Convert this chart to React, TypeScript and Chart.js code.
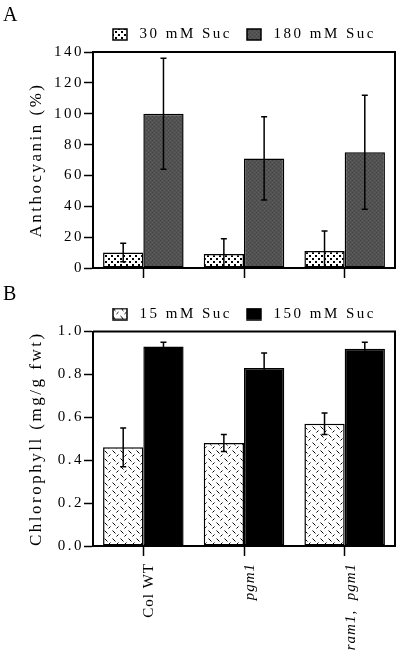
import React, { useEffect, useRef } from 'react';
import { Chart, registerables } from 'chart.js';
Chart.register(...registerables);

const FONT = "'Liberation Serif', 'Times New Roman', serif";

const categories = ['Col WT', 'pgm1', 'ram1,  pgm1'];

const anthoSeriesNames = ['30 mM Suc', '180 mM Suc'];
const antho30 = [10, 9, 11];
const antho30Err = [6, 10, 13];
const antho180 = [100, 71, 75];
const antho180Err = [36, 27, 37];
const anthoTicks = [0, 20, 40, 60, 80, 100, 120, 140];
const anthoTitle = 'Anthocyanin (%)';

const chloroSeriesNames = ['15 mM Suc', '150 mM Suc'];
const chloro15 = [0.46, 0.48, 0.57];
const chloro15Err = [0.09, 0.04, 0.05];
const chloro150 = [0.93, 0.83, 0.92];
const chloro150Err = [0.02, 0.07, 0.03];
const chloroTicks = [0, 0.2, 0.4, 0.6, 0.8, 1.0];
const chloroTitle = 'Chlorophyll (mg/g fwt)';

function makePattern(kind: string): any {
  const c = document.createElement('canvas');
  const g = c.getContext('2d')!;
  if (kind === 'dots') {
    c.width = 6; c.height = 6;
    g.fillStyle = '#fff'; g.fillRect(0, 0, 6, 6);
    g.fillStyle = '#000';
    g.fillRect(0, 0, 2, 2);
    g.fillRect(3, 3, 2, 2);
  } else if (kind === 'gray') {
    c.width = 4; c.height = 4;
    g.fillStyle = '#525252'; g.fillRect(0, 0, 4, 4);
    g.fillStyle = '#444444';
    g.fillRect(0, 0, 1, 1);
    g.fillRect(2, 2, 1, 1);
    g.fillStyle = '#606060';
    g.fillRect(2, 0, 1, 1);
    g.fillRect(0, 2, 1, 1);
  } else {
    c.width = 8; c.height = 8;
    g.fillStyle = '#fff'; g.fillRect(0, 0, 8, 8);
    g.strokeStyle = '#000'; g.lineWidth = 1;
    g.beginPath();
    g.moveTo(0.5, 0.5); g.lineTo(3.5, 3.5);
    g.moveTo(6.5, 4.5); g.lineTo(4.5, 6.5);
    g.stroke();
  }
  return g.createPattern(c, 'repeat');
}

const SWATCH_W = 20;

// legend swatch: 15x12 box at the left of a wider transparent image
function makeSwatch(fill: any): HTMLCanvasElement {
  const c = document.createElement('canvas');
  c.width = SWATCH_W; c.height = 13;
  const g = c.getContext('2d')!;
  g.fillStyle = fill;
  g.fillRect(1, 1, 14, 11);
  g.strokeStyle = '#000';
  g.lineWidth = 1.5;
  g.strokeRect(1, 1, 14, 11);
  return c;
}

const SPACING = '2.5px';

const spacingPlugin = {
  id: 'letterSpacing',
  beforeLayout(chart: any) { chart.ctx.letterSpacing = SPACING; },
  beforeDraw(chart: any) { chart.ctx.letterSpacing = SPACING; },
};

const framePlugin = {
  id: 'frame',
  afterDraw(chart: any) {
    const { ctx, chartArea } = chart;
    const { left, top, right, bottom } = chartArea;
    ctx.save();
    ctx.strokeStyle = '#000';
    ctx.lineWidth = 2;
    ctx.beginPath();
    ctx.moveTo(left, top);
    ctx.lineTo(right, top);
    ctx.lineTo(right, bottom);
    ctx.stroke();
    ctx.restore();
  },
};

const errorBarsPlugin = {
  id: 'errorBars',
  afterDatasetsDraw(chart: any) {
    const { ctx, chartArea } = chart;
    const y = chart.scales.y;
    ctx.save();
    ctx.beginPath();
    ctx.rect(chartArea.left, chartArea.top - 20, chartArea.right - chartArea.left, chartArea.bottom - chartArea.top + 20);
    ctx.clip();
    ctx.strokeStyle = '#000';
    ctx.lineWidth = 1.5;
    chart.data.datasets.forEach((ds: any, i: number) => {
      const meta = chart.getDatasetMeta(i);
      meta.data.forEach((bar: any, j: number) => {
        const v = ds.data[j];
        const e = ds.errors[j];
        const x = bar.x;
        const yt = y.getPixelForValue(v + e);
        const yb = y.getPixelForValue(v - e);
        ctx.beginPath();
        ctx.moveTo(x, yt); ctx.lineTo(x, yb);
        ctx.moveTo(x - 3, yt); ctx.lineTo(x + 3, yt);
        if (v - e >= y.min) { ctx.moveTo(x - 3, yb); ctx.lineTo(x + 3, yb); }
        ctx.stroke();
      });
    });
    ctx.restore();
  },
};

function makeConfig(p: any): any {
  const dsBase = { borderColor: '#000', borderWidth: 1.5, borderSkipped: false, categoryPercentage: 0.8, barPercentage: 1 };
  const swatches = [makeSwatch(p.bgLow), makeSwatch(p.bgHigh)];
  return {
    type: 'bar',
    data: {
      labels: categories,
      datasets: [
        { ...dsBase, label: p.names[0], data: p.low, errors: p.lowErr, backgroundColor: p.bgLow },
        { ...dsBase, label: p.names[1], data: p.high, errors: p.highErr, backgroundColor: p.bgHigh },
      ],
    },
    options: {
      animation: false,
      responsive: false,
      devicePixelRatio: 1,
      layout: { padding: { top: p.padTop, left: 0, right: 5, bottom: 0 } },
      plugins: {
        legend: {
          position: 'top', fullSize: false, align: 'center',
          labels: {
            usePointStyle: true, pointStyleWidth: SWATCH_W, boxHeight: 12, padding: 14, color: '#000',
            font: { family: FONT, size: 15 },
            generateLabels: (chart: any) => {
              const items = (Chart.defaults as any).plugins.legend.labels.generateLabels(chart);
              items.forEach((it: any, i: number) => { it.pointStyle = swatches[i]; });
              return items;
            },
          },
        },
        tooltip: { enabled: false },
      },
      scales: {
        x: {
          grid: { display: true, offset: false, drawOnChartArea: false, drawTicks: true, tickLength: 10, tickColor: '#000', tickWidth: 1.5 },
          border: { display: true, color: '#000', width: 2 },
          ticks: {
            display: p.showX, autoSkip: false, minRotation: 90, maxRotation: 90, padding: 7, labelOffset: 6, color: '#000',
            font: (c: any) => ({ family: FONT, size: 15, style: c.index > 0 ? 'italic' : 'normal' }),
          },
          afterFit: (s: any) => {
            s.height = p.xHeight;
            if (!s.__wrapped) {
              const orig = s.drawLabels;
              s.drawLabels = function (area: any) {
                const ctx = this.ctx;
                const prev = ctx.letterSpacing;
                ctx.letterSpacing = '1px';
                orig.call(this, area);
                ctx.letterSpacing = prev;
              };
              s.__wrapped = true;
            }
          },
        },
        y: {
          min: p.ticks[0], max: p.ticks[p.ticks.length - 1],
          grid: { display: true, drawOnChartArea: false, drawTicks: true, tickLength: 9, tickColor: '#000', tickWidth: 1.5 },
          border: { display: true, color: '#000', width: 2 },
          ticks: { padding: 0, color: '#000', font: { family: FONT, size: 15 }, callback: (v: any) => p.fmt(Number(v)) },
          afterBuildTicks: (s: any) => { s.ticks = p.ticks.map((v: number) => ({ value: v })); },
          title: { display: true, text: p.title, color: '#000', font: { family: FONT, size: 17 }, padding: { top: 26, bottom: 0 } },
          afterFit: (s: any) => { s.width = 93; },
        },
      },
    },
    plugins: [spacingPlugin, errorBarsPlugin, framePlugin],
  };
}

function fixTop(chart: any, target: number, pad: number) {
  const d = target - chart.chartArea.top;
  if (Math.abs(d) > 0.05) {
    chart.options.layout.padding = { top: pad + d, left: 0, right: 5, bottom: 0 };
    chart.update();
  }
}

export default function App() {
  const refA = useRef<HTMLCanvasElement>(null);
  const refB = useRef<HTMLCanvasElement>(null);
  useEffect(() => {
    const dots = makePattern('dots');
    const gray = makePattern('gray');
    const dash = makePattern('dash');
    const a = new Chart(refA.current!, makeConfig({
      names: anthoSeriesNames, low: antho30, lowErr: antho30Err, high: antho180, highErr: antho180Err,
      bgLow: dots, bgHigh: gray, ticks: anthoTicks, fmt: (v: number) => String(v), title: anthoTitle,
      showX: false, xHeight: 22, padTop: 10,
    }));
    fixTop(a, 52, 10);
    const b = new Chart(refB.current!, makeConfig({
      names: chloroSeriesNames, low: chloro15, lowErr: chloro15Err, high: chloro150, highErr: chloro150Err,
      bgLow: dash, bgHigh: '#000', ticks: chloroTicks, fmt: (v: number) => v.toFixed(1), title: chloroTitle,
      showX: true, xHeight: 114, padTop: 2,
    }));
    fixTop(b, 41.5, 2);
    return () => { a.destroy(); b.destroy(); };
  }, []);
  const letter: React.CSSProperties = { position: 'absolute', left: 3, fontFamily: FONT, fontSize: 20, lineHeight: '20px', color: '#000' };
  return (
    <div style={{ position: 'absolute', left: 0, top: 0, width: 400, height: 660, background: '#fff', overflow: 'hidden' }}>
      <canvas ref={refA} width={400} height={290} style={{ position: 'absolute', left: 0, top: 0, width: 400, height: 290 }} />
      <canvas ref={refB} width={400} height={370} style={{ position: 'absolute', left: 0, top: 290, width: 400, height: 370 }} />
      <div style={{ ...letter, top: 4 }}>A</div>
      <div style={{ ...letter, top: 283 }}>B</div>
    </div>
  );
}
